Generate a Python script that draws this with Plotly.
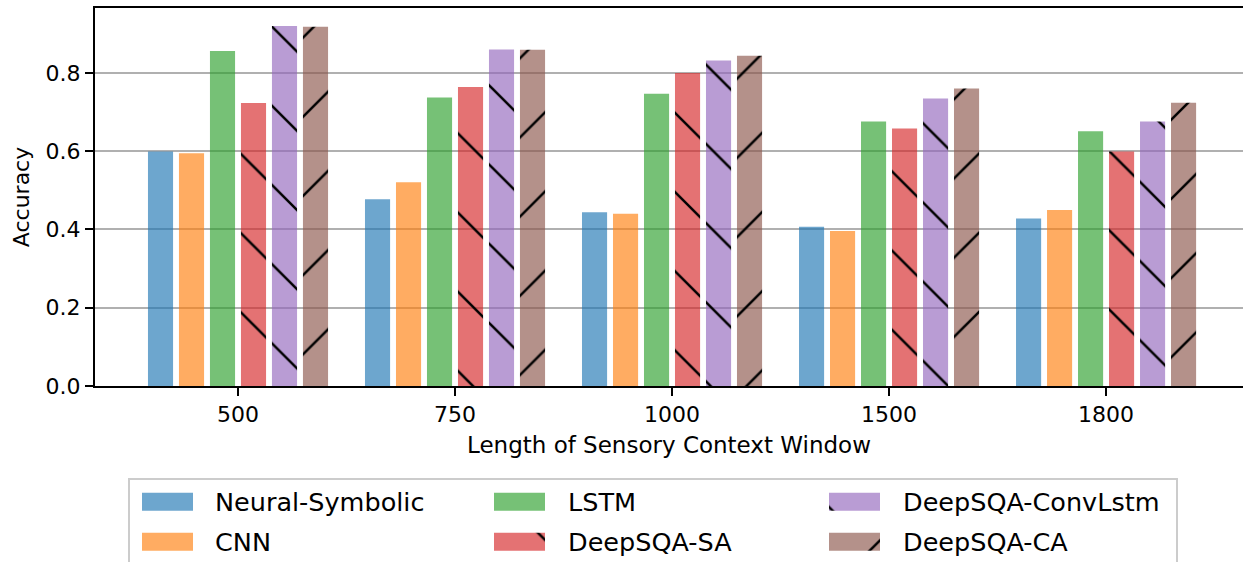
import plotly.graph_objects as go

categories = ["500", "750", "1000", "1500", "1800"]
neural_symbolic = [0.599, 0.477, 0.444, 0.407, 0.428]
cnn = [0.595, 0.521, 0.440, 0.396, 0.450]
lstm = [0.856, 0.737, 0.747, 0.676, 0.651]
deepsqa_sa = [0.723, 0.764, 0.800, 0.658, 0.599]
deepsqa_convlstm = [0.920, 0.860, 0.832, 0.735, 0.676]
deepsqa_ca = [0.918, 0.859, 0.844, 0.760, 0.724]

series_names = ["Neural-Symbolic", "CNN", "LSTM", "DeepSQA-SA", "DeepSQA-ConvLstm", "DeepSQA-CA"]
series_values = [neural_symbolic, cnn, lstm, deepsqa_sa, deepsqa_convlstm, deepsqa_ca]
colors = ["rgba(31,119,180,0.65)", "rgba(255,127,14,0.65)", "rgba(44,160,44,0.65)",
          "rgba(214,39,40,0.65)", "rgba(148,103,189,0.65)", "rgba(140,86,75,0.65)"]
hatches = ["", "", "", "\\", "\\", "/"]

# ---- layout (pixel geometry of the page) ----
W, H = 1243, 562
plot_left, plot_right, plot_top, plot_bottom = 95, 1243, 8, 386
legend_area_top = 470
# legend: column-major, 3 columns x 2 rows (pixel positions in the legend strip)
leg_patch_left = [142, 494, 829]
leg_text_left = [213, 566, 901]
leg_row_center = [501.7, 541.7]
leg_patch_w, leg_patch_h = 51, 18
leg_box = (129, 479, 1177, 640)

font = dict(family="DejaVu Sans", size=22, color="black")
title_font = dict(family="DejaVu Sans", size=23, color="black")
legend_font = dict(family="DejaVu Sans", size=25.5, color="black")

fig = go.Figure()
for name, vals, col, hat in zip(series_names, series_values, colors, hatches):
    fig.add_trace(go.Bar(
        x=categories, y=vals, name=name, showlegend=False,
        marker=dict(color=col, line=dict(width=0),
                    pattern=dict(shape=hat, fgcolor="black", fgopacity=1,
                                 size=56, solidity=0.045)),
        xaxis="x", yaxis="y",
    ))

annotations = []
for i, (name, col, hat) in enumerate(zip(series_names, colors, hatches)):
    c, r = i // 2, i % 2
    fig.add_trace(go.Bar(
        orientation="h", y=[leg_row_center[r]], x=[leg_patch_w], base=[leg_patch_left[c]],
        width=leg_patch_h, offset=-leg_patch_h / 2, showlegend=False, hoverinfo="skip",
        marker=dict(color=col, line=dict(width=0),
                    pattern=dict(shape=hat, fgcolor="black", fgopacity=1,
                                 size=56, solidity=0.045)),
        xaxis="x2", yaxis="y2",
    ))
    annotations.append(dict(
        xref="x2", yref="y2", x=leg_text_left[c], y=leg_row_center[r],
        text=name, showarrow=False, xanchor="left", yanchor="middle",
        font=legend_font,
    ))

fig.update_layout(
    width=W, height=H, autosize=False,
    margin=dict(l=0, r=0, t=0, b=0, pad=0, autoexpand=False),
    paper_bgcolor="white", plot_bgcolor="white",
    barmode="group", bargap=0.143, bargroupgap=0.19,
    font=font,
    showlegend=False,
    xaxis=dict(
        domain=[plot_left / W, plot_right / W], anchor="y",
        type="category", range=[-0.659, 4.631], automargin=False,
        showline=True, linecolor="black", linewidth=2, mirror=True,
        ticks="outside", ticklen=8, tickwidth=2, tickcolor="black",
        showgrid=False, zeroline=False,
        tickfont=font,
        title=dict(text="Length of Sensory Context Window", font=title_font, standoff=10),
    ),
    yaxis=dict(
        domain=[(H - plot_bottom) / H, (H - plot_top) / H], anchor="x",
        range=[0, 0.966], tickvals=[0, 0.2, 0.4, 0.6, 0.8], automargin=False,
        ticktext=["0.0", "0.2", "0.4", "0.6", "0.8"],
        showline=True, linecolor="black", linewidth=2, mirror=False,
        ticks="outside", ticklen=8, tickwidth=2, tickcolor="black",
        showgrid=True, gridcolor="#b0b0b0", gridwidth=2, zeroline=False,
        tickfont=font,
        title=dict(text="Accuracy", font=font, standoff=10),
    ),
    xaxis2=dict(domain=[0, 1], anchor="y2", range=[0, W], visible=False,
                fixedrange=True, automargin=False),
    yaxis2=dict(domain=[0, (H - legend_area_top) / H], anchor="x2",
                range=[H, legend_area_top], visible=False, fixedrange=True,
                automargin=False),
    annotations=annotations,
    shapes=[dict(type="rect", xref="x2", yref="y2",
                 x0=leg_box[0], x1=leg_box[2], y0=leg_box[1], y1=leg_box[3],
                 line=dict(color="#cccccc", width=2), fillcolor="rgba(255,255,255,0)",
                 layer="above")],
)

fig.write_html("out.html")
